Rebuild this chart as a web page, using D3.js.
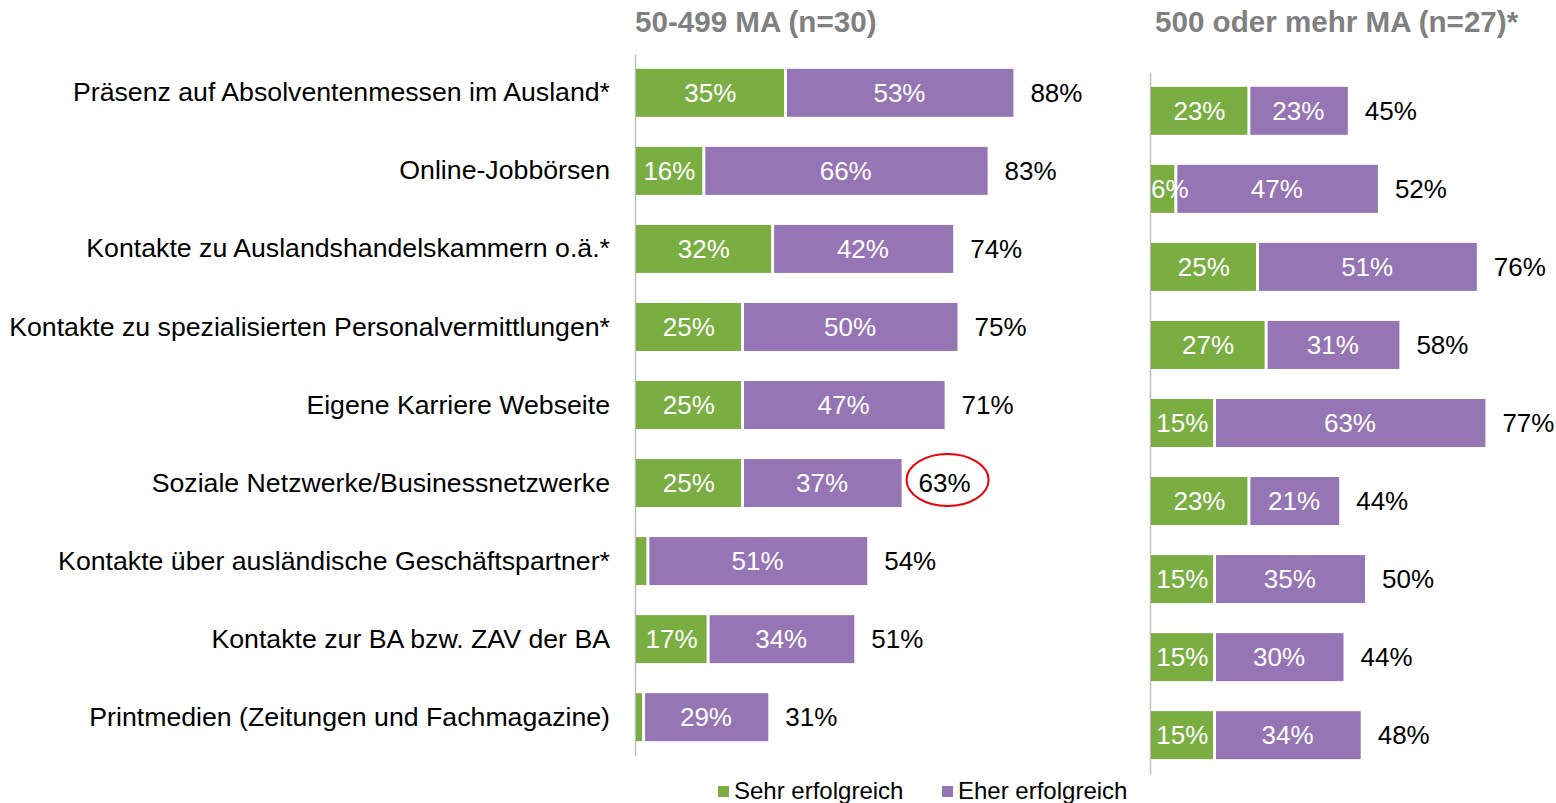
<!DOCTYPE html>
<html>
<head>
<meta charset="utf-8">
<script src="https://cdn.jsdelivr.net/npm/d3@7"></script>
<style>
    body { margin: 0; background: #fff; }
    svg { display: block; font-family: Arial, "Liberation Sans", sans-serif; }
    .domain { stroke: #bfbfbf; stroke-width: 1.5; }
</style>
</head>
<body>
<svg id="mainFrame"></svg>
<script>
const categories = [
    'Präsenz auf Absolventenmessen im Ausland*',
    'Online-Jobbörsen',
    'Kontakte zu Auslandshandelskammern o.ä.*',
    'Kontakte zu spezialisierten Personalvermittlungen*',
    'Eigene Karriere Webseite',
    'Soziale Netzwerke/Businessnetzwerke',
    'Kontakte über ausländische Geschäftspartner*',
    'Kontakte zur BA bzw. ZAV der BA',
    'Printmedien (Zeitungen und Fachmagazine)'
]

// 50-499 MA
const smallSehr = [35, 16, 32, 25, 25, 25, 3, 17, 2]
const smallEher = [53, 66, 42, 50, 47, 37, 51, 34, 29]
const smallTotal = [88, 83, 74, 75, 71, 63, 54, 51, 31]

// 500 oder mehr MA
const bigSehr = [23, 6, 25, 27, 15, 23, 15, 15, 15]
const bigEher = [23, 47, 51, 31, 63, 21, 35, 30, 34]
const bigTotal = [45, 52, 76, 58, 77, 44, 50, 44, 48]

const seriesNames = ['Sehr erfolgreich', 'Eher erfolgreich']
const titles = ['50-499 MA (n=30)', '500 oder mehr MA (n=27)*']
const highlightIndex = 5   // circled total in the left panel

const colors = ['#7aad42', '#9575b3']

const svg = d3.select('#mainFrame')
    .attr('width', 1556)
    .attr('height', 803);

const pxPerPercent = 4.3

const panels = [
    { title: titles[0], sehr: smallSehr, eher: smallEher, total: smallTotal, left: 635, top: 54 },
    { title: titles[1], sehr: bigSehr, eher: bigEher, total: bigTotal, left: 1150, top: 72 }
]

panels.forEach((p, pi) => {
    const g = svg.append('g')

    const yScale = d3.scaleBand()
        .domain(categories)
        .range([p.top, p.top + 702])
        .paddingInner(0.385)
        .paddingOuter(0.19)

    const xScale = d3.scaleLinear()
        .domain([0, 100])
        .range([p.left, p.left + 100 * pxPerPercent])

    const yAxis = d3.axisLeft(yScale)
        .tickSize(0)
        .tickSizeOuter(0)
        .tickPadding(25)

    if (pi === 1) yAxis.tickFormat('')

    const axisG = g.append('g')
        .attr('transform', `translate(${p.left},0)`)
        .call(yAxis)

    axisG.selectAll('text')
        .attr('font-size', 26.7)
        .attr('font-family', 'Arial, "Liberation Sans", sans-serif')
        .attr('fill', '#000')

    g.append('text')
        .attr('x', p.left + (pi === 1 ? 5 : 0))
        .attr('y', 32)
        .attr('font-size', 29.6)
        .attr('font-weight', 'bold')
        .attr('fill', '#808080')
        .text(p.title)

    const rows = categories.map((c, i) => ({ c, s: p.sehr[i], e: p.eher[i], t: p.total[i] }))

    const row = g.selectAll('g.row').data(rows)
        .join('g')
        .attr('class', 'row')

    row.append('rect')
        .attr('x', d => xScale(0) + 1)
        .attr('y', d => yScale(d.c))
        .attr('width', d => xScale(d.s) - xScale(0) - 2.5)
        .attr('height', yScale.bandwidth())
        .attr('fill', colors[0])

    row.append('rect')
        .attr('x', d => xScale(d.s) + 1.5)
        .attr('y', d => yScale(d.c))
        .attr('width', d => xScale(d.e) - xScale(0) - 1.5)
        .attr('height', yScale.bandwidth())
        .attr('fill', colors[1])

    // narrow segments: label starts at the bar instead of being centred
    const narrow = d => xScale(d.s) - xScale(0) < 36

    row.filter(d => d.s >= 5).append('text')
        .attr('x', d => narrow(d) ? xScale(0) + 1 : (xScale(0) + xScale(d.s)) / 2)
        .attr('y', d => yScale(d.c) + yScale.bandwidth() / 2)
        .attr('dy', '0.35em')
        .attr('text-anchor', d => narrow(d) ? 'start' : 'middle')
        .attr('font-size', 26)
        .attr('fill', '#fff')
        .text(d => d.s + '%')

    row.append('text')
        .attr('x', d => (xScale(d.s) + xScale(d.s + d.e)) / 2)
        .attr('y', d => yScale(d.c) + yScale.bandwidth() / 2)
        .attr('dy', '0.35em')
        .attr('text-anchor', 'middle')
        .attr('font-size', 26)
        .attr('fill', '#fff')
        .text(d => d.e + '%')

    row.append('text')
        .attr('x', d => xScale(d.s + d.e) + 17)
        .attr('y', d => yScale(d.c) + yScale.bandwidth() / 2)
        .attr('dy', '0.35em')
        .attr('font-size', 26)
        .attr('fill', '#000')
        .text(d => d.t + '%')

    if (pi === 0) {
        const d = rows[highlightIndex]
        g.append('ellipse')
            .attr('cx', xScale(d.s + d.e) + 17 + 29)
            .attr('cy', yScale(d.c) + yScale.bandwidth() / 2 - 3)
            .attr('rx', 41)
            .attr('ry', 26)
            .attr('fill', 'none')
            .attr('stroke', '#e8000b')
            .attr('stroke-width', 2)
    }
})

// legend
const legend = svg.append('g')
    .attr('transform', 'translate(718,786)')

const legendItem = legend.selectAll('g').data(seriesNames)
    .join('g')
    .attr('transform', (d, i) => `translate(${i * 224},0)`)

legendItem.append('rect')
    .attr('width', 11)
    .attr('height', 11)
    .attr('fill', (d, i) => colors[i])

legendItem.append('text')
    .attr('x', 16)
    .attr('y', 13)
    .attr('font-size', 24)
    .attr('fill', '#000')
    .text(d => d)
</script>
</body>
</html>
